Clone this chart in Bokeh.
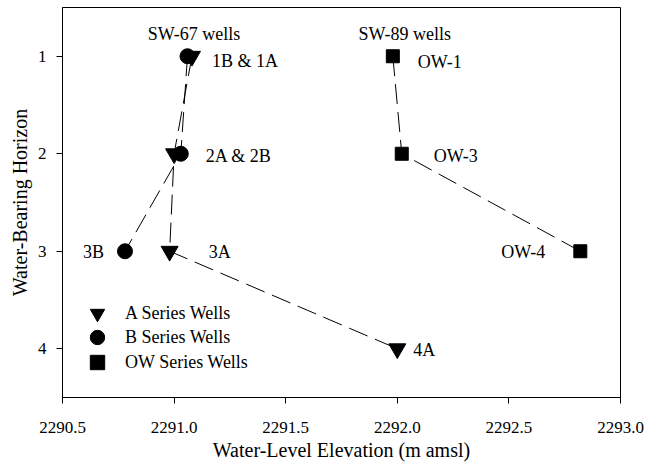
from bokeh.plotting import figure
from bokeh.models import Range1d, Legend, LegendItem, FixedTicker, Label
from bokeh.embed import file_html
from bokeh.resources import INLINE

# ---- data ----
a_labels = ["1A", "2A", "3A", "4A"]
a_elev = [2291.08, 2291.00, 2290.98, 2292.00]
a_horizon = [1, 2, 3, 4]

b_labels = ["1B", "2B", "3B"]
b_elev = [2291.06, 2291.03, 2290.78]
b_horizon = [1, 2, 3]

ow_labels = ["OW-1", "OW-3", "OW-4"]
ow_elev = [2291.98, 2292.02, 2292.82]
ow_horizon = [1, 2, 3]

x_ticks = [2290.5, 2291.0, 2291.5, 2292.0, 2292.5, 2293.0]
y_ticks = [1, 2, 3, 4]

legend_names = ["A Series Wells", "B Series Wells", "OW Series Wells"]

FONT = "Liberation Serif"

p = figure(width=646, height=463, output_backend="svg", toolbar_location=None,
           x_range=Range1d(2290.5, 2293.0), y_range=Range1d(4.5, 0.5),
           min_border_left=62, min_border_right=26, min_border_top=7, min_border_bottom=66)
p.xgrid.visible = False
p.ygrid.visible = False
p.outline_line_color = "black"
p.outline_line_width = 1
p.background_fill_color = "white"
p.border_fill_color = "white"

for axes in (p.xaxis, p.yaxis):
    axes.axis_line_color = "black"
    axes.major_tick_line_color = "black"
    axes.minor_tick_line_color = None
    axes.major_tick_in = 0
    axes.major_tick_out = 6
    axes.major_label_text_font = FONT
    axes.major_label_text_font_size = "17px"
    axes.major_label_text_color = "black"
    axes.axis_label_text_font = FONT
    axes.axis_label_text_font_size = "20px"
    axes.axis_label_text_font_style = "normal"
    axes.axis_label_text_color = "black"

p.xaxis.ticker = FixedTicker(ticks=x_ticks)
p.yaxis.ticker = FixedTicker(ticks=y_ticks)
p.xaxis.major_label_overrides = {t: f"{t:.1f}" for t in x_ticks}
p.xaxis.axis_label = "Water-Level Elevation (m amsl)"
p.yaxis.axis_label = "Water-Bearing Horizon"
p.xaxis.major_label_standoff = 18
p.yaxis.major_label_standoff = 10
p.xaxis.axis_label_standoff = 3
p.yaxis.axis_label_standoff = 4

DASH = "20 8"
p.line(a_elev, a_horizon, line_color="black", line_width=1, line_dash=DASH)
p.line(b_elev, b_horizon, line_color="black", line_width=1, line_dash=DASH)
p.line(ow_elev, ow_horizon, line_color="black", line_width=1, line_dash=DASH)

ra = p.scatter(a_elev, a_horizon, marker="inverted_triangle", size=17,
               fill_color="black", line_color="black")
rb = p.scatter(b_elev, b_horizon, marker="circle", size=15,
               fill_color="black", line_color="black")
rw = p.scatter(ow_elev, ow_horizon, marker="square", size=13,
               fill_color="black", line_color="black")

# one legend box per entry so the rows can sit 25 px apart with large glyphs
legend_bottoms = [66, 42, 17]
for name, r, bottom in zip(legend_names, [ra, rb, rw], legend_bottoms):
    lg = Legend(items=[LegendItem(label=name, renderers=[r])],
                location=(17, bottom), border_line_color=None, background_fill_alpha=0,
                label_text_font=FONT, label_text_font_size="18px", label_text_color="black",
                glyph_width=36, glyph_height=36, label_height=20,
                padding=0, label_standoff=10, margin=0)
    p.add_layout(lg, "center")

# point annotations: (text, x, y, x_offset px, y_offset px, align)
ann = [
    ("SW-67 wells", a_elev[0], 1, 2, -22, "center"),
    ("SW-89 wells", ow_elev[0], 1, 12, -22, "center"),
    ("1B & 1A", a_elev[0], 1, 20, 5, "left"),
    ("2A & 2B", b_elev[1], 2, 25, 2, "left"),
    ("3B", b_elev[2], 3, -21, 1, "right"),
    ("3A", a_elev[2], 3, 39, 1, "left"),
    ("4A", a_elev[3], 4, 16, 1, "left"),
    ("OW-1", ow_elev[0], 1, 25, 6, "left"),
    ("OW-3", ow_elev[1], 2, 32, 2, "left"),
    ("OW-4", ow_elev[2], 3, -35, 1, "right"),
]
for t, x, y, xo, yo, al in ann:
    p.add_layout(Label(x=x, y=y, text=t, x_offset=xo, y_offset=-yo,
                       text_align=al, text_baseline="middle",
                       text_font=FONT, text_font_size="18px", text_color="black"))

open("out.html", "w").write(file_html(p, INLINE))
